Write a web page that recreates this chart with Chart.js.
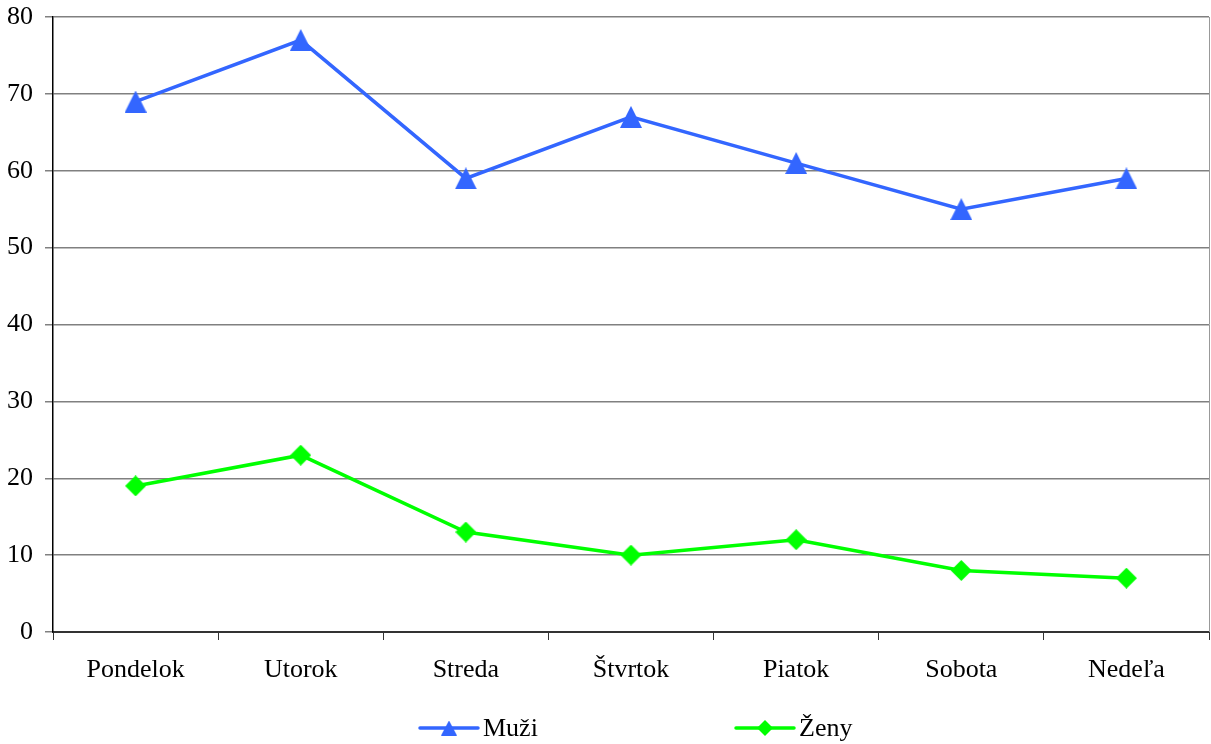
<!DOCTYPE html>
<html>
<head>
<meta charset="utf-8">
<script src="https://cdn.jsdelivr.net/npm/chart.js@4/dist/chart.umd.min.js"></script>
<style>
  html, body { margin: 0; padding: 0; background: #fff; overflow: hidden; }
  #wrap { width: 1220px; height: 744px; }
  canvas { display: block; }
</style>
</head>
<body>
<div id="wrap"><canvas id="c" width="1220" height="744"></canvas></div>
<script>
const categories = ['Pondelok', 'Utorok', 'Streda', 'Štvrtok', 'Piatok', 'Sobota', 'Nedeľa'];
const muzi = [69, 77, 59, 67, 61, 55, 59];
const zeny = [19, 23, 13, 10, 12, 8, 7];
const seriesNames = ['Muži', 'Ženy'];
const yTicks = [0, 10, 20, 30, 40, 50, 60, 70, 80];

const FONT = '"Liberation Serif", "Times New Roman", serif';
const BLUE = '#3366FF';
const GREEN = '#00FF00';

function triangleImg(w, h, color) {
  const c = document.createElement('canvas');
  c.width = w; c.height = h;
  const g = c.getContext('2d');
  g.fillStyle = color;
  g.beginPath();
  g.moveTo(w / 2, 0);
  g.lineTo(w, h);
  g.lineTo(0, h);
  g.closePath();
  g.fill();
  return c;
}
function diamondImg(w, h, color) {
  const c = document.createElement('canvas');
  c.width = w; c.height = h;
  const g = c.getContext('2d');
  g.fillStyle = color;
  g.beginPath();
  g.moveTo(w / 2, 0);
  g.lineTo(w, h / 2);
  g.lineTo(w / 2, h);
  g.lineTo(0, h / 2);
  g.closePath();
  g.fill();
  return c;
}

const triBig = triangleImg(22, 22, BLUE);
const diaBig = diamondImg(21, 21, GREEN);
const triSmall = triangleImg(16, 15, BLUE);
const diaSmall = diamondImg(16, 16, GREEN);

const legendPlugin = {
  id: 'customLegend',
  afterDraw(chart) {
    const ctx = chart.ctx;
    const items = [
      { x: 420, color: BLUE, img: triSmall, label: seriesNames[0] },
      { x: 736, color: GREEN, img: diaSmall, label: seriesNames[1] }
    ];
    const y = 728;
    ctx.save();
    items.forEach(it => {
      ctx.strokeStyle = it.color;
      ctx.lineWidth = 3.5;
      ctx.lineCap = 'round';
      ctx.beginPath();
      ctx.moveTo(it.x, y);
      ctx.lineTo(it.x + 58, y);
      ctx.stroke();
      ctx.drawImage(it.img, it.x + 29 - it.img.width / 2, y - it.img.height / 2);
      ctx.fillStyle = '#000';
      ctx.font = '26px ' + FONT;
      ctx.textAlign = 'left';
      ctx.textBaseline = 'middle';
      ctx.fillText(it.label, it.x + 63, y + 1);
    });
    ctx.restore();
  }
};

const borderPlugin = {
  id: 'rightBorder',
  beforeDatasetsDraw(chart) {
    const a = chart.chartArea;
    const ctx = chart.ctx;
    ctx.save();
    ctx.strokeStyle = '#999999';
    ctx.lineWidth = 1;
    ctx.beginPath();
    ctx.moveTo(a.right + 0.5, a.top);
    ctx.lineTo(a.right + 0.5, a.bottom);
    ctx.stroke();
    ctx.restore();
  }
};

function zeroPad(scale) {
  scale.paddingTop = 0;
  scale.paddingBottom = 0;
  scale.paddingLeft = 0;
  scale.paddingRight = 0;
}

new Chart(document.getElementById('c'), {
  type: 'line',
  data: {
    labels: categories,
    datasets: [
      {
        label: seriesNames[0],
        data: muzi,
        borderColor: BLUE,
        backgroundColor: BLUE,
        borderWidth: 3.5,
        pointStyle: triBig,
        pointRadius: 11,
        pointHoverRadius: 11,
        pointBorderWidth: 0,
        tension: 0
      },
      {
        label: seriesNames[1],
        data: zeny,
        borderColor: GREEN,
        backgroundColor: GREEN,
        borderWidth: 3.5,
        pointStyle: diaBig,
        pointRadius: 11,
        pointHoverRadius: 11,
        pointBorderWidth: 0,
        tension: 0
      }
    ]
  },
  options: {
    responsive: false,
    animation: false,
    devicePixelRatio: 1,
    layout: { padding: { top: 17, right: 2, left: 0, bottom: 0 } },
    plugins: {
      legend: { display: false },
      tooltip: { enabled: false }
    },
    scales: {
      x: {
        offset: true,
        afterFit(scale) { scale.height = 112; zeroPad(scale); },
        grid: {
          offset: true,
          drawOnChartArea: false,
          drawTicks: true,
          tickLength: 8,
          tickColor: '#333333',
          tickWidth: 1
        },
        border: { display: true, color: '#333333', width: 2 },
        ticks: {
          color: '#000',
          font: { family: FONT, size: 26, lineHeight: 2.1 },
          padding: 3,
          maxRotation: 0,
          autoSkip: false
        }
      },
      y: {
        min: 0,
        max: 80,
        afterFit(scale) { scale.width = 53; zeroPad(scale); },
        afterBuildTicks(scale) { scale.ticks = yTicks.map(v => ({ value: v })); },
        grid: {
          color: '#808080',
          lineWidth: 1.5,
          drawTicks: true,
          tickLength: 8,
          tickColor: '#808080'
        },
        border: { display: true, color: '#000000', width: 1.5 },
        ticks: {
          color: '#000',
          font: { family: FONT, size: 26 },
          padding: 12
        }
      }
    }
  },
  plugins: [borderPlugin, legendPlugin]
});
</script>
</body>
</html>
